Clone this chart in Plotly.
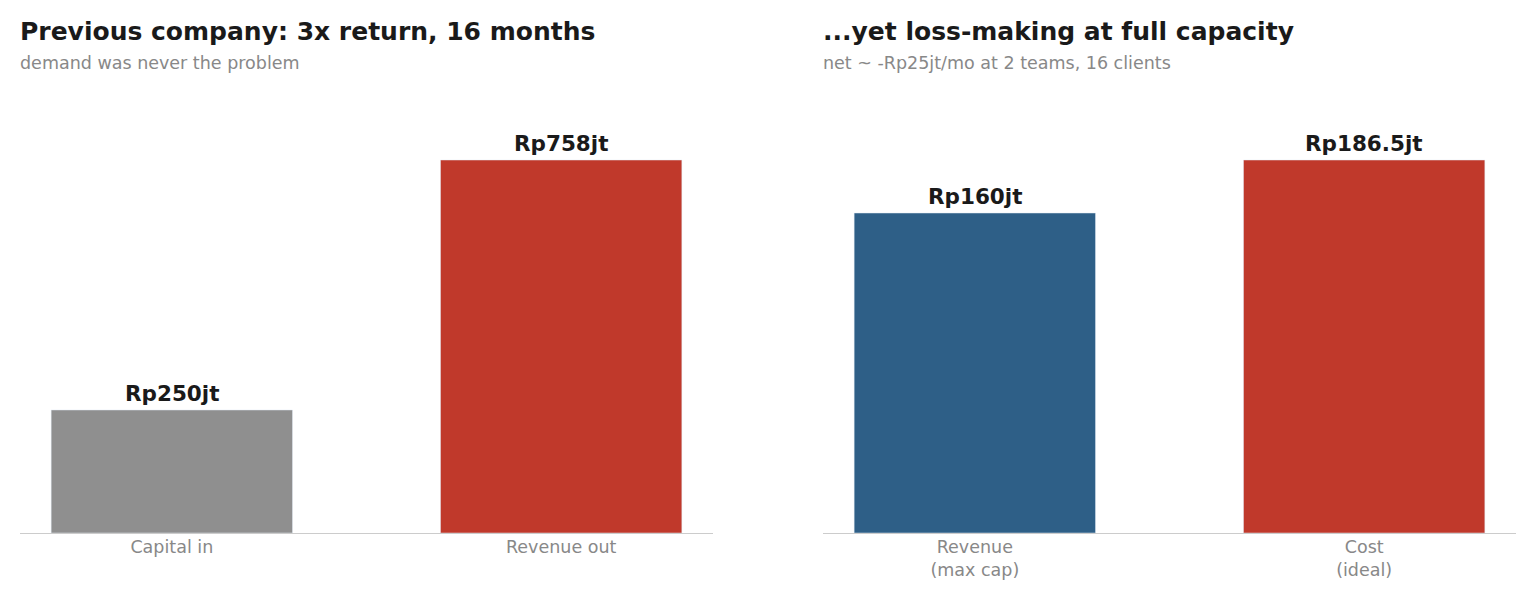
import plotly.graph_objects as go

W, H = 1535, 597

left_cats = ["Capital in", "Revenue out"]
left_vals = [250, 758]
left_labels = ["Rp250jt", "Rp758jt"]
left_colors = ["#8f8f8f", "#c0392b"]

right_cats = ["Revenue<br>(max cap)", "Cost<br>(ideal)"]
right_vals = [160, 186.5]
right_labels = ["Rp160jt", "Rp186.5jt"]
right_colors = ["#2e5f87", "#c0392b"]

titles = ["Previous company: 3x return, 16 months", "...yet loss-making at full capacity"]
subtitles = ["demand was never the problem", "net ~ -Rp25jt/mo at 2 teams, 16 clients"]

FONT = "DejaVu Sans"
fig = go.Figure()

fig.add_trace(go.Bar(x=left_cats, y=left_vals, marker_color=left_colors, width=0.62,
                     xaxis="x", yaxis="y", showlegend=False, hoverinfo="skip"))
fig.add_trace(go.Bar(x=right_cats, y=right_vals, marker_color=right_colors, width=0.62,
                     xaxis="x2", yaxis="y2", showlegend=False, hoverinfo="skip"))

bottom = 64 / H
top = (H - (533 - 373 * 1.15)) / H

axis_common = dict(showgrid=False, zeroline=False, showline=True, linecolor="#cccccc",
                   linewidth=1, ticks="", tickfont=dict(family=FONT, size=17.5, color="#888888"),
                   range=[-0.39, 1.39], fixedrange=True, ticklabelstandoff=-2)
yaxis_common = dict(visible=False, showgrid=False, zeroline=False, fixedrange=True)

fig.update_layout(
    width=W, height=H,
    margin=dict(l=0, r=0, t=0, b=0),
    paper_bgcolor="white", plot_bgcolor="white",
    font=dict(family=FONT),
    xaxis=dict(domain=[20 / W, 713 / W], anchor="y", **axis_common),
    yaxis=dict(domain=[bottom, top], anchor="x", range=[0, max(left_vals) * 1.15], **yaxis_common),
    xaxis2=dict(domain=[823 / W, 1516 / W], anchor="y2", **axis_common),
    yaxis2=dict(domain=[bottom, top], anchor="x2", range=[0, max(right_vals) * 1.15], **yaxis_common),
)

anns = []
for i, (cats, vals, labs, xr, yr) in enumerate([
        (left_cats, left_vals, left_labels, "x", "y"),
        (right_cats, right_vals, right_labels, "x2", "y2")]):
    for c, v, t in zip(cats, vals, labs):
        anns.append(dict(x=c, y=v, xref=xr, yref=yr, text=f"<b>{t}</b>", showarrow=False,
                         yanchor="bottom", yshift=2,
                         font=dict(family=FONT, size=21.5, color="#1a1a1a")))

for x0, t, s in zip([18, 821], titles, subtitles):
    anns.append(dict(x=x0 / W, y=1 - 32 / H, xref="paper", yref="paper", xanchor="left",
                     yanchor="middle", text=f"<b>{t}</b>", showarrow=False,
                     font=dict(family=FONT, size=25, color="#1a1a1a")))
    anns.append(dict(x=x0 / W, y=1 - 63 / H, xref="paper", yref="paper", xanchor="left",
                     yanchor="middle", text=s, showarrow=False,
                     font=dict(family=FONT, size=17.5, color="#888888")))

fig.update_layout(annotations=anns)
fig.write_html("out.html")
